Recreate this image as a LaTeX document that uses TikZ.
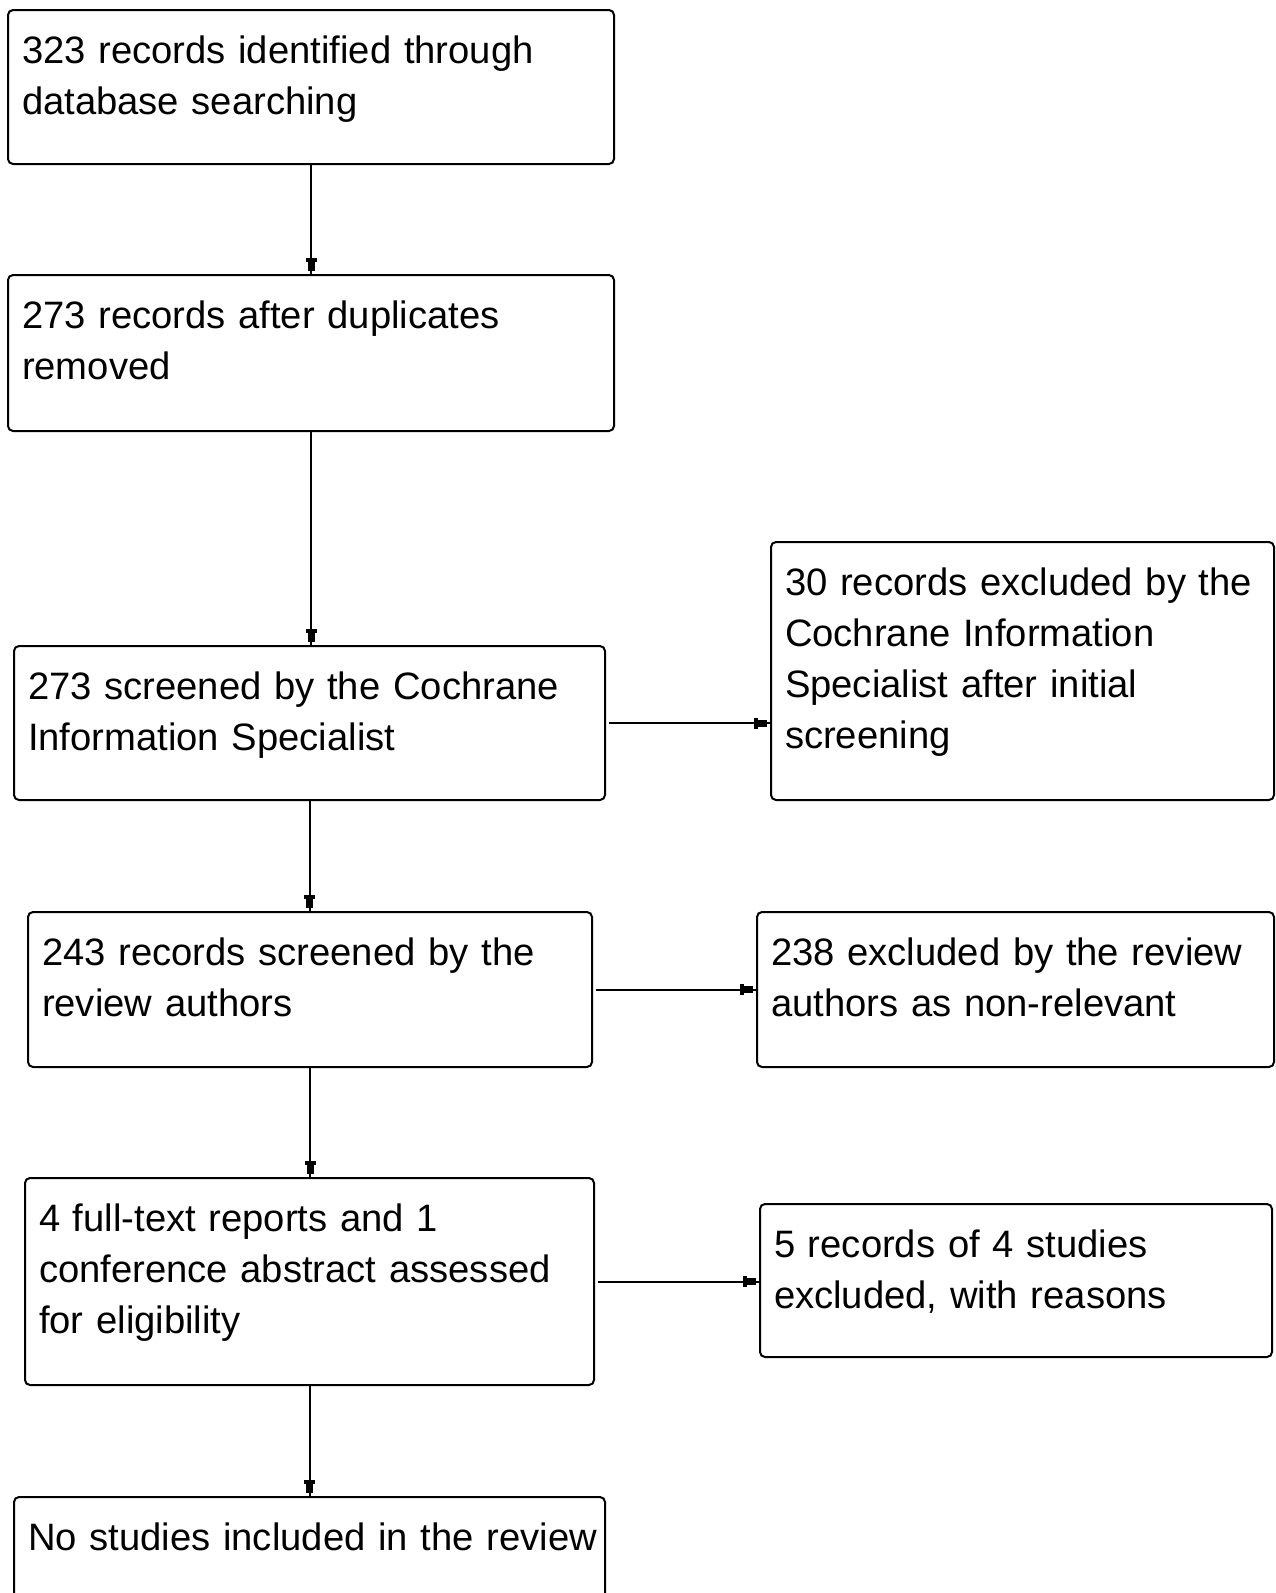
\documentclass[tikz,border=0pt]{standalone}
\usepackage{fontspec}
\setmainfont{Liberation Sans}
\usepackage{tikz}
\usetikzlibrary{arrows.meta,decorations.markings}

\tikzset{
    flowbox/.style={draw, line width=2pt, rounded corners=5pt, anchor=north west, outer sep=0pt,
        inner xsep=14pt, inner ysep=0pt, text height=53pt, align=left,
        font=\fontsize{38.2}{51}\selectfont},
    flowarrow/.style={line width=2pt, postaction={decorate},
        decoration={markings,
            mark=at position -4pt with {\arrow{Rectangle[length=9pt,width=7pt]}},
            mark=at position -13pt with {\arrow{Bar[width=11pt,line width=4pt]}}}}
}

\begin{document}
\begin{tikzpicture}[x=1pt, y=-1pt]
        \useasboundingbox (0,0) rectangle (1276,1593);

        % Main column
        \node[flowbox, text width=578pt, text depth=101pt] (ident) at (8,10) {323 records identified through\\database searching};
        \node[flowbox, text width=578pt, text depth=103pt] (dedup) at (8,275) {273 records after duplicates\\removed};
        \node[flowbox, text width=563pt, text depth=101pt] (cisscreen) at (14,646) {273 screened by the Cochrane\\Information Specialist};
        \node[flowbox, text width=536pt, text depth=102pt] (authscreen) at (28,912) {243 records screened by the\\review authors};
        \node[flowbox, text width=541pt, text depth=154pt] (fulltext) at (25,1178) {4 full-text reports and 1\\conference abstract assessed\\for eligibility};
        \node[flowbox, text width=563pt, text depth=102pt] (included) at (14,1497) {\mbox{No studies included in the review}};

        % Exclusions
        \node[flowbox, text width=475pt, text depth=205pt] (cisexcl) at (771,542) {30 records excluded by the\\Cochrane Information\\Specialist after initial\\screening};
        \node[flowbox, text width=489pt, text depth=102pt] (authexcl) at (757,912) {238 excluded by the review\\authors as non-relevant};
        \node[flowbox, text width=484pt, text depth=100pt] (ftexcl) at (760,1204) {5 records of 4 studies\\excluded, with reasons};

        % Arrows
        \draw[flowarrow] (ident.south) -- (ident.south |- dedup.north);
        \draw[flowarrow] (dedup.south) -- (dedup.south |- cisscreen.north);
        \draw[flowarrow] (cisscreen.south) -- (cisscreen.south |- authscreen.north);
        \draw[flowarrow] (authscreen.south) -- (authscreen.south |- fulltext.north);
        \draw[flowarrow] (fulltext.south) -- (fulltext.south |- included.north);
        \draw[flowarrow] ([xshift=4pt]cisscreen.east) -- (cisscreen.east -| cisexcl.west);
        \draw[flowarrow] ([xshift=4pt]authscreen.east) -- (authscreen.east -| authexcl.west);
        \draw[flowarrow] ([xshift=4pt]fulltext.east) -- (fulltext.east -| ftexcl.west);
    \end{tikzpicture}
\end{document}
